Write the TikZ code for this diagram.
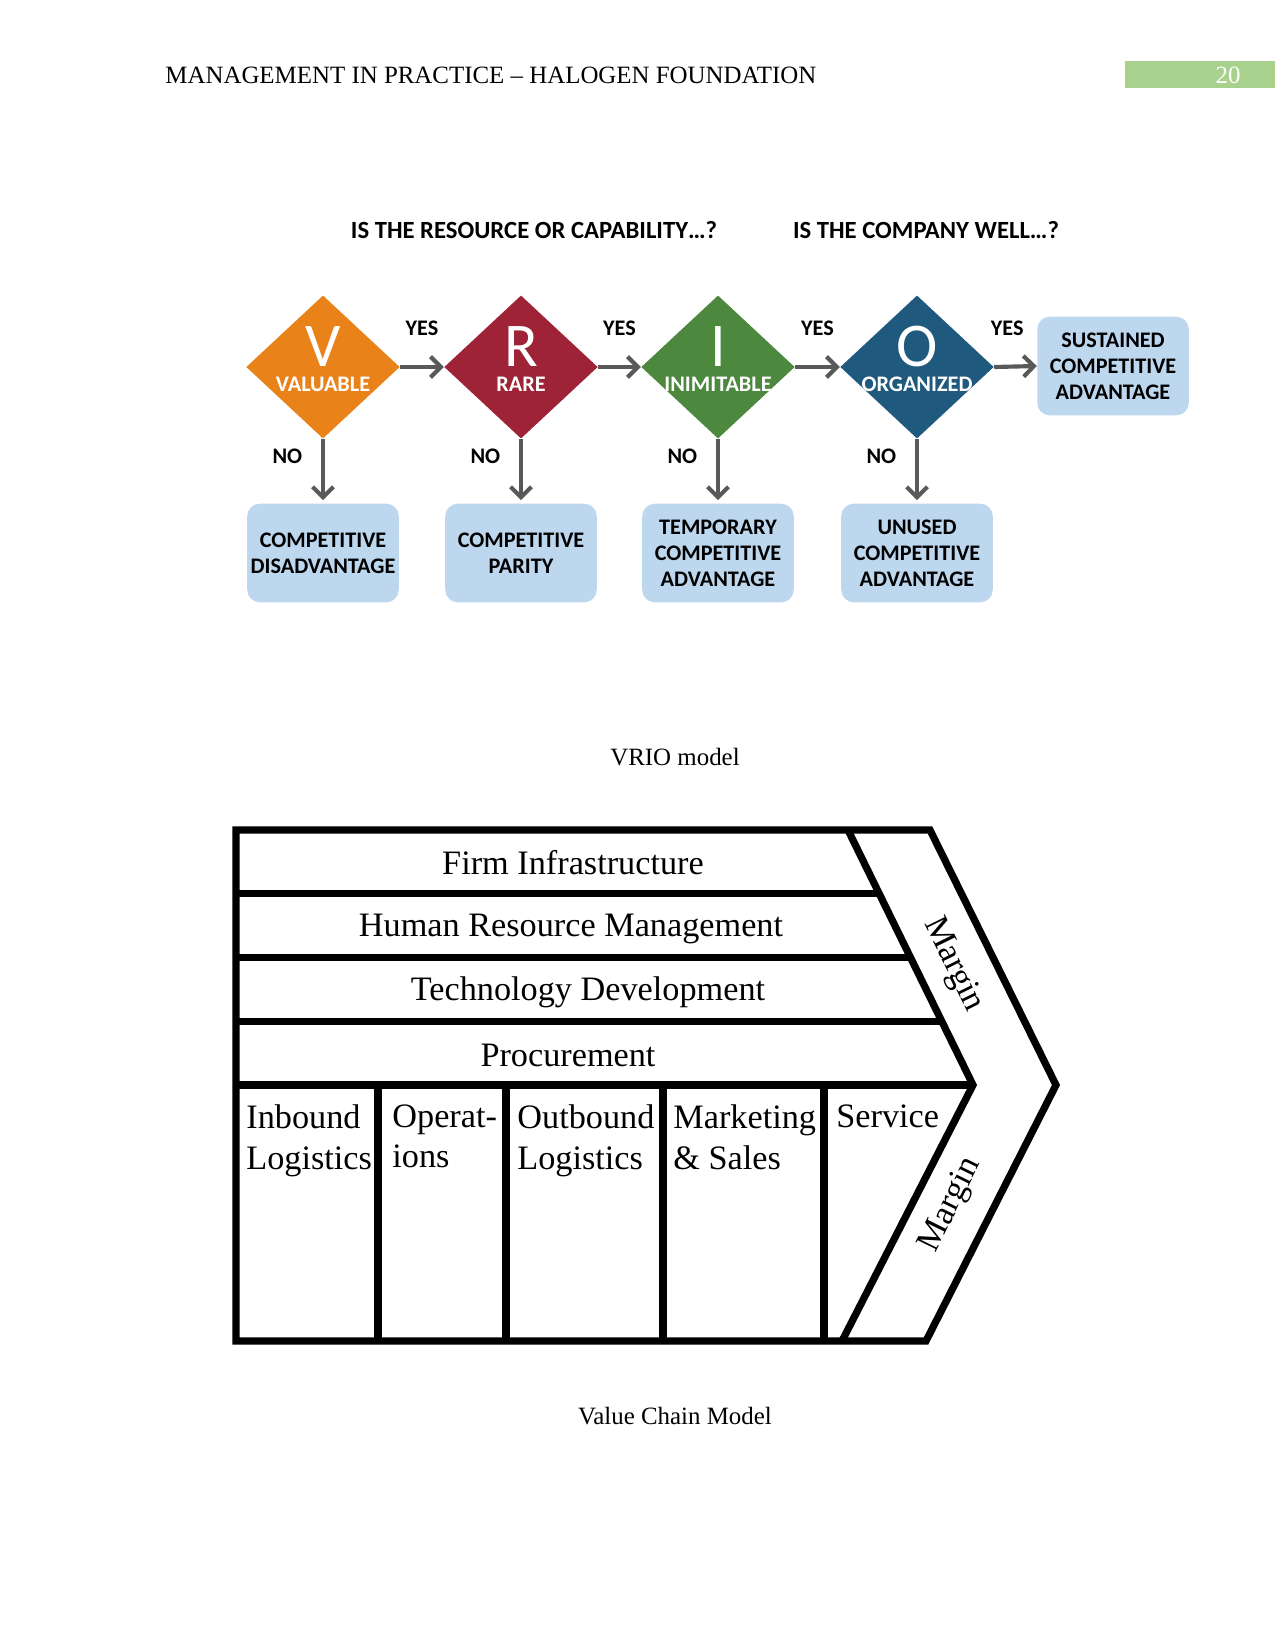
\documentclass[tikz,border=0pt]{standalone}
\usepackage{fontspec}
\setmainfont{Liberation Serif}
\newfontfamily\calibri{Carlito}
\usepackage{tikz}
\usetikzlibrary{
  arrows.meta,
  positioning,
  calc,
  shapes.geometric
}
\definecolor{vorange}{RGB}{234,130,26}
\definecolor{rred}{RGB}{158,35,54}
\definecolor{igreen}{RGB}{76,136,62}
\definecolor{oblue}{RGB}{31,90,126}
\definecolor{boxblue}{RGB}{189,215,238}
\definecolor{arrowgray}{RGB}{89,89,89}
\definecolor{pagegreen}{RGB}{169,209,142}

\tikzset{
  vrio/.style={diamond,minimum width=74pt,minimum height=69pt,inner sep=0pt},
  bigletter/.style={text=white,inner sep=0pt,font=\calibri\fontsize{30}{30}\selectfont},
  dlabel/.style={text=white,inner sep=0pt,font=\calibri\bfseries\fontsize{10.7}{12.5}\selectfont},
  outcome/.style={fill=boxblue,rounded corners=6pt,minimum width=73pt,minimum height=47.5pt,
    align=center,inner sep=0pt,font=\calibri\bfseries\fontsize{10.7}{12.5}\selectfont},
  ans/.style={inner sep=0pt,font=\calibri\bfseries\fontsize{10.7}{12.5}\selectfont},
  question/.style={inner sep=0pt,font=\calibri\bfseries\fontsize{11.9}{14}\selectfont},
  flow/.style={draw=arrowgray,line width=2pt,-{Straight Barb[length=5pt,width=10pt]}},
  chain/.style={line width=3.5pt,line join=miter},
  act/.style={inner sep=0pt,font=\fontsize{16.5}{19.7}\selectfont}
}

\begin{document}
\begin{tikzpicture}[x=0.16933mm,y=-0.16933mm]
  \useasboundingbox (0,0) rectangle (1275,1650);

  % page header
  \node[anchor=west,inner sep=0pt,font=\fontsize{12}{14}\selectfont] (head) at (165,75)
    {MANAGEMENT IN PRACTICE – HALOGEN FOUNDATION};
  \fill[pagegreen] (1125,61) rectangle (1275,88);
  \node[text=white,inner sep=0pt,font=\fontsize{12}{14}\selectfont] (pagenum) at (1228,75) {20};

  % VRIO
  \node[question] (q1) at (534,230) {IS THE RESOURCE OR CAPABILITY…?};
  \node[question] (q2) at (926,230) {IS THE COMPANY WELL…?};

  \node[vrio,fill=vorange] (V) at (323,367) {};
  \node[vrio,fill=rred] (R) at (521,367) {};
  \node[vrio,fill=igreen] (I) at (718,367) {};
  \node[vrio,fill=oblue] (O) at (917,367) {};
  \foreach \d/\t in {V/VALUABLE,R/RARE,I/INIMITABLE,O/ORGANIZED}{
    \node[bigletter] (\d l) at ($(\d.center)+(0,-20)$) {\d};
    \node[dlabel] (\d t) at ($(\d.center)+(0,17)$) {\t};
  }

  \node[outcome] (sca) at (1113,366) {SUSTAINED\\COMPETITIVE\\ADVANTAGE};
  \node[outcome] (cd) at (323,553) {COMPETITIVE\\DISADVANTAGE};
  \node[outcome] (cp) at (521,553) {COMPETITIVE\\PARITY};
  \node[outcome] (tca) at (718,553) {TEMPORARY\\COMPETITIVE\\ADVANTAGE};
  \node[outcome] (uca) at (917,553) {UNUSED\\COMPETITIVE\\ADVANTAGE};

  \foreach \a/\b in {V/R,R/I,I/O}{
    \draw[flow] (\a.east) -- (\b.west) node[ans,midway,above=14pt] (yes\a) {YES};
  }
  \draw[flow] (O.east) -- (sca.west) node[ans,midway,above=14pt,xshift=-4pt] (yesO) {YES};
  \foreach \a/\b in {V/cd,R/cp,I/tca,O/uca}{
    \draw[flow,shorten >=1.5pt] (\a.south) -- (\b.north) node[ans,pos=0.27,left=9pt] (no\a) {NO};
  }

  \node[inner sep=0pt,font=\fontsize{12}{14}\selectfont] (cap1) at (675,757) {VRIO model};

  % value chain
  \coordinate (otop) at (930,830);
  \coordinate (otip) at (1056,1085);
  \coordinate (obot) at (926,1341);
  \coordinate (itop) at (848,830);
  \coordinate (itip) at (973,1085);
  \coordinate (ibot) at (842,1341);
  \draw[chain] (236,830) -- (otop) -- (otip) -- (obot) -- (236,1341) -- cycle;
  \draw[chain] (itop) -- (itip) -- (ibot);
  \foreach \k in {1,...,4}
    \draw[chain] (236,{830+63.75*\k}) -- ($(itop)!\k/4!(itip)$);
  \foreach \x in {378,506,663,824}
    \draw[chain] (\x,1085) -- (\x,1341);

  \node[act] (firm) at (573,863) {Firm Infrastructure};
  \node[act] (hrm) at (571,929) {Human Resource Management};
  \node[act] (tech) at (588,992) {Technology Development};
  \node[act] (proc) at (568,1055) {Procurement};

  \node[act,anchor=north west,align=left] (inb) at (246,1104) {Inbound\\Logistics};
  \node[act,anchor=north west,align=left] (ops) at (392,1104) {Operat-\\ions};
  \node[act,anchor=north west,align=left] (outb) at (517,1104) {Outbound\\Logistics};
  \node[act,anchor=north west,align=left] (mkt) at (673,1104) {Marketing\\\& Sales};
  \node[act,anchor=north west,align=left] (serv) at (836,1104) {Service};

  \node[act,rotate=-63.8] (mup) at (953,965) {Margin};
  \node[act,rotate=63.8] (mdown) at (951,1205) {Margin};

  \node[inner sep=0pt,font=\fontsize{12}{14}\selectfont] (cap2) at (675,1416) {Value Chain Model};
\end{tikzpicture}
\end{document}
